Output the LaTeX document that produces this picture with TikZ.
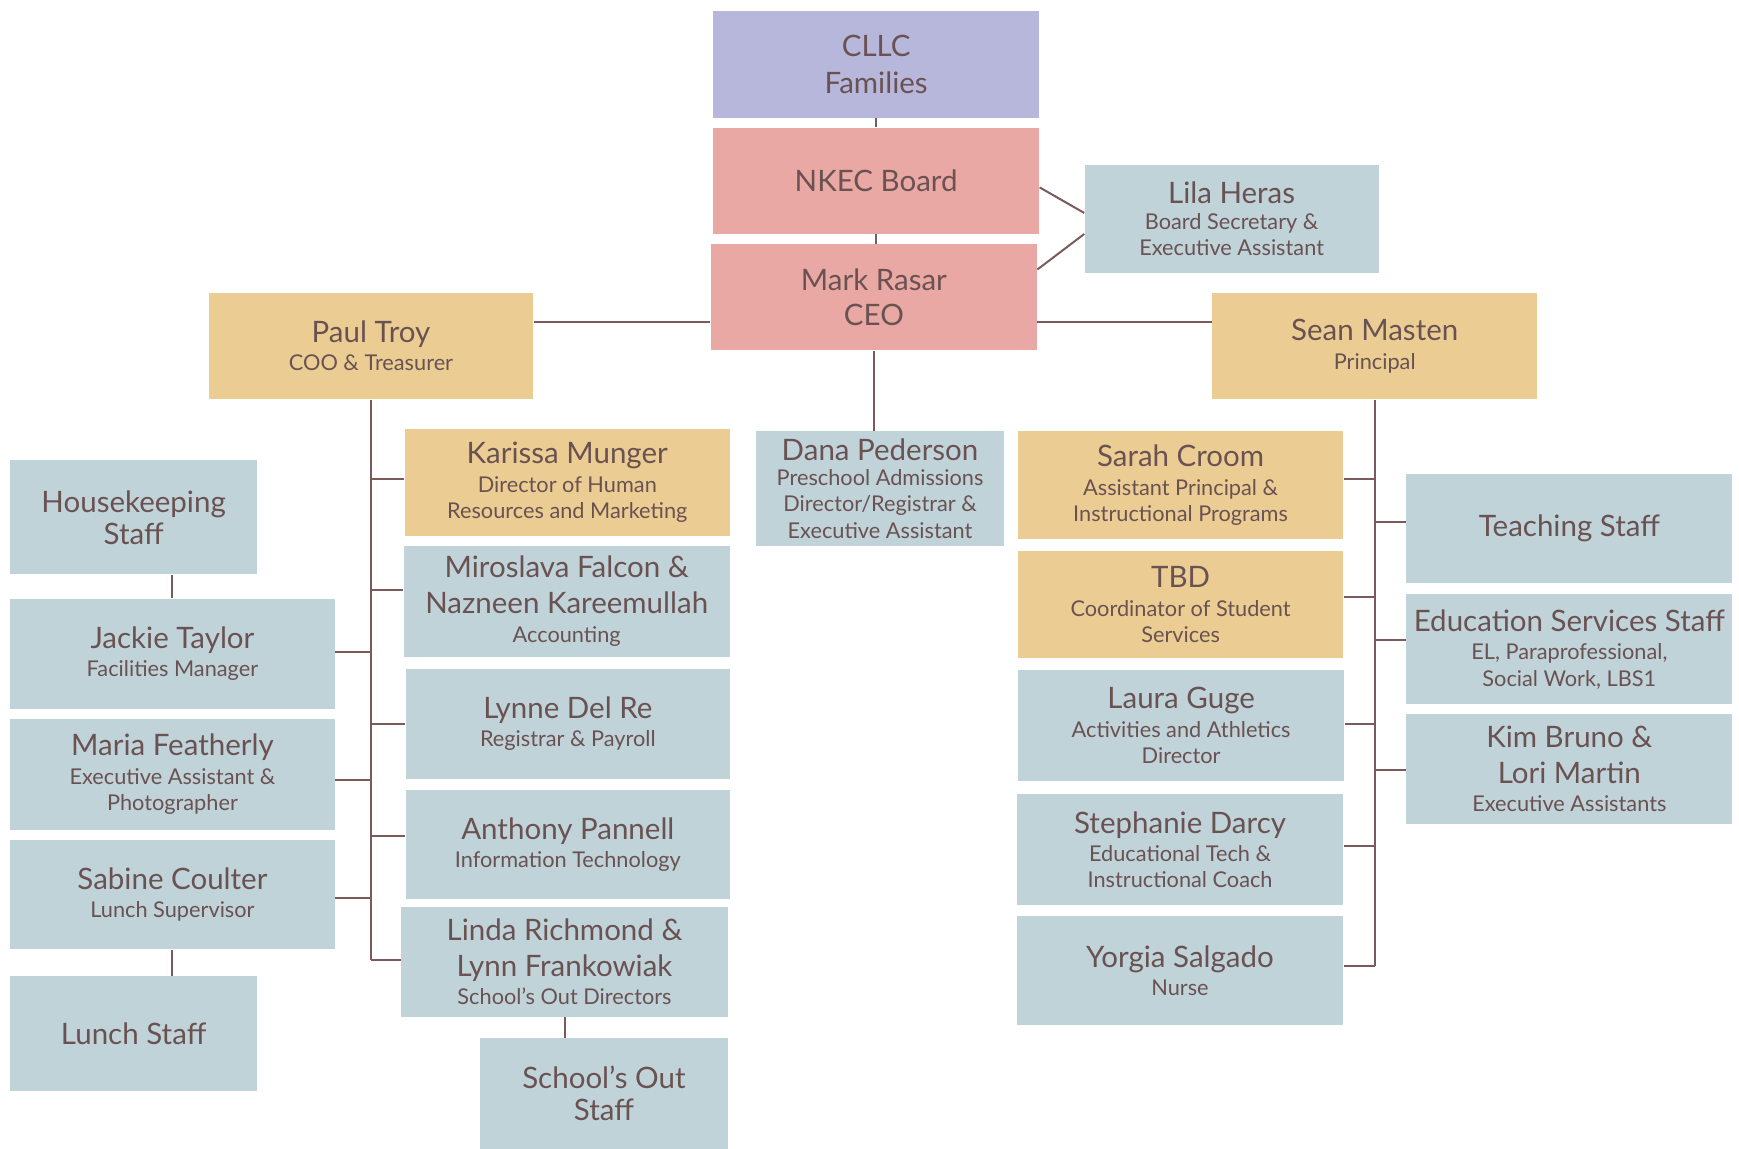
\documentclass[tikz,border=0pt]{standalone}
\usepackage{fontspec}
\setmainfont{Lato}
\definecolor{lav}{HTML}{B7B7DB}
\definecolor{pnk}{HTML}{EAA8A4}
\definecolor{gld}{HTML}{EBCD94}
\definecolor{blu}{HTML}{BFD3D9}
\definecolor{txt}{HTML}{6A5252}
\definecolor{ln}{HTML}{7A5A5A}
\newcommand\nm{\fontsize{13.3}{11.8}\selectfont}
\newcommand\sbt{\fontsize{9.8}{11.8}\selectfont}
\newcommand\boxfont{\sbt\lineskiplimit-100pt\relax}
\tikzset{
  box/.style={rectangle, inner sep=0pt, align=center, text=txt, font=\boxfont},
  conn/.style={draw=ln, line width=0.9pt}
}
\newcommand\orgbox[7]{%
  \node[box, fill=#2, minimum width={(#5-#3)*0.5pt}, minimum height={(#6-#4)*0.5pt}]
    (#1) at ({(#3+#5)/2},{(#4+#6)/2}) {#7};}
\begin{document}
\begin{tikzpicture}[x=0.5pt,y=-0.5pt]
\useasboundingbox (0,0) rectangle (1568,1036);
\orgbox{cllc}{lav}{643}{10}{937}{106}{\nm CLLC\\[4.7pt]\nm Families}
\orgbox{nkec}{pnk}{643}{115}{937}{211}{\nm NKEC Board}
\orgbox{mark}{pnk}{641}{220}{935}{316}{\nm Mark Rasar\\[4.3pt]\nm CEO}
\orgbox{lila}{blu}{978}{149}{1243}{246}{\nm Lila Heras\\\sbt Board Secretary \&\\\sbt Executive Assistant}
\orgbox{paul}{gld}{188}{264}{481}{360}{\nm Paul Troy\\[1pt]\sbt COO \& Treasurer}
\orgbox{sean}{gld}{1093}{264}{1386}{360}{\nm Sean Masten\\[1.2pt]\sbt Principal}
\orgbox{house}{blu}{9}{415}{232}{518}{\nm Housekeeping\\[2.7pt]\nm Staff}
\orgbox{jackie}{blu}{9}{540}{302}{639}{\nm Jackie Taylor\\[1pt]\sbt Facilities Manager}
\orgbox{maria}{blu}{9}{648}{302}{748}{\nm Maria Featherly\\[1pt]\sbt Executive Assistant \&\\\sbt Photographer}
\orgbox{sabine}{blu}{9}{757}{302}{856}{\nm Sabine Coulter\\[1pt]\sbt Lunch Supervisor}
\orgbox{lunch}{blu}{9}{880}{232}{984}{\nm Lunch Staff}
\orgbox{karissa}{gld}{365}{387}{658}{483}{\nm Karissa Munger\\[1pt]\sbt Director of Human\\\sbt Resources and Marketing}
\orgbox{miro}{blu}{364}{492}{658}{592}{\nm Miroslava Falcon \&\\[4.3pt]\nm Nazneen Kareemullah\\[1pt]\sbt Accounting}
\orgbox{lynne}{blu}{366}{603}{658}{702}{\nm Lynne Del Re\\[1.2pt]\sbt Registrar \& Payroll}
\orgbox{anthony}{blu}{366}{712}{658}{811}{\nm Anthony Pannell\\[1pt]\sbt Information Technology}
\orgbox{linda}{blu}{362}{818}{656}{917}{\nm Linda Richmond \&\\[4.3pt]\nm Lynn Frankowiak\\[1pt]\sbt School's Out Directors}
\orgbox{sostaff}{blu}{433}{936}{656}{1036}{\nm School's Out\\[2.7pt]\nm Staff}
\orgbox{dana}{blu}{682}{389}{905}{492}{\nm Dana Pederson\\[-0.5pt]\sbt Preschool Admissions\\\sbt Director/Registrar \&\\\sbt Executive Assistant}
\orgbox{sarah}{gld}{918}{389}{1211}{486}{\nm Sarah Croom\\[1pt]\sbt Assistant Principal \&\\\sbt Instructional Programs}
\orgbox{tbd}{gld}{918}{497}{1211}{593}{\nm TBD\\[1pt]\sbt Coordinator of Student\\\sbt Services}
\orgbox{laura}{blu}{918}{604}{1212}{704}{\nm Laura Guge\\[1pt]\sbt Activities and Athletics\\\sbt Director}
\orgbox{steph}{blu}{917}{716}{1211}{816}{\nm Stephanie Darcy\\[1pt]\sbt Educational Tech \&\\\sbt Instructional Coach}
\orgbox{yorgia}{blu}{917}{826}{1211}{924}{\nm Yorgia Salgado\\[1pt]\sbt Nurse}
\orgbox{teach}{blu}{1268}{427}{1562}{526}{\nm Teaching Staff}
\orgbox{edserv}{blu}{1268}{536}{1562}{635}{\nm Education Services Staff\\[1pt]\sbt EL, Paraprofessional,\\\sbt Social Work, LBS1}
\orgbox{kim}{blu}{1268}{644}{1562}{743}{\nm Kim Bruno \&\\[4.3pt]\nm Lori Martin\\[1pt]\sbt Executive Assistants}
% connectors
\draw[conn] (cllc.south) -- (cllc.south |- nkec.north);
\draw[conn] (nkec.south) -- (nkec.south |- mark.north);
\draw[conn] (nkec.east |- 0,169) -- (lila.west |- 0,192);
\draw[conn] (mark.east |- 0,243) -- (lila.west |- 0,211);
\draw[conn] (paul.east |- 0,290) -- (mark.west |- 0,290);
\draw[conn] (mark.east |- 0,290) -- (sean.west |- 0,290);
\draw[conn] (mark.south) -- (mark.south |- dana.north);
% Paul trunk
\draw[conn] (paul.south) -- (paul.south |- 0,866);
\draw[conn] (paul.south |- 0,432) -- (karissa.west |- 0,432);
\draw[conn] (paul.south |- 0,532) -- (miro.west |- 0,532);
\draw[conn] (paul.south |- 0,653) -- (lynne.west |- 0,653);
\draw[conn] (paul.south |- 0,754) -- (anthony.west |- 0,754);
\draw[conn] (paul.south |- 0,866) -- (linda.west |- 0,866);
\draw[conn] (paul.south |- 0,588) -- (jackie.east |- 0,588);
\draw[conn] (paul.south |- 0,703) -- (maria.east |- 0,703);
\draw[conn] (paul.south |- 0,810) -- (sabine.east |- 0,810);
\draw[conn] (jackie.north) -- (jackie.north |- house.south);
\draw[conn] (sabine.south) -- (sabine.south |- lunch.north);
\draw[conn] (linda.south) -- (linda.south |- sostaff.north);
% Sean trunk
\draw[conn] (sean.south) -- (sean.south |- 0,871);
\draw[conn] (sean.south |- 0,432) -- (sarah.east |- 0,432);
\draw[conn] (sean.south |- 0,538) -- (tbd.east |- 0,538);
\draw[conn] (sean.south |- 0,653) -- (laura.east |- 0,653);
\draw[conn] (sean.south |- 0,763) -- (steph.east |- 0,763);
\draw[conn] (sean.south |- 0,871) -- (yorgia.east |- 0,871);
\draw[conn] (sean.south |- 0,471) -- (teach.west |- 0,471);
\draw[conn] (sean.south |- 0,577) -- (edserv.west |- 0,577);
\draw[conn] (sean.south |- 0,694) -- (kim.west |- 0,694);
\end{tikzpicture}
\end{document}
